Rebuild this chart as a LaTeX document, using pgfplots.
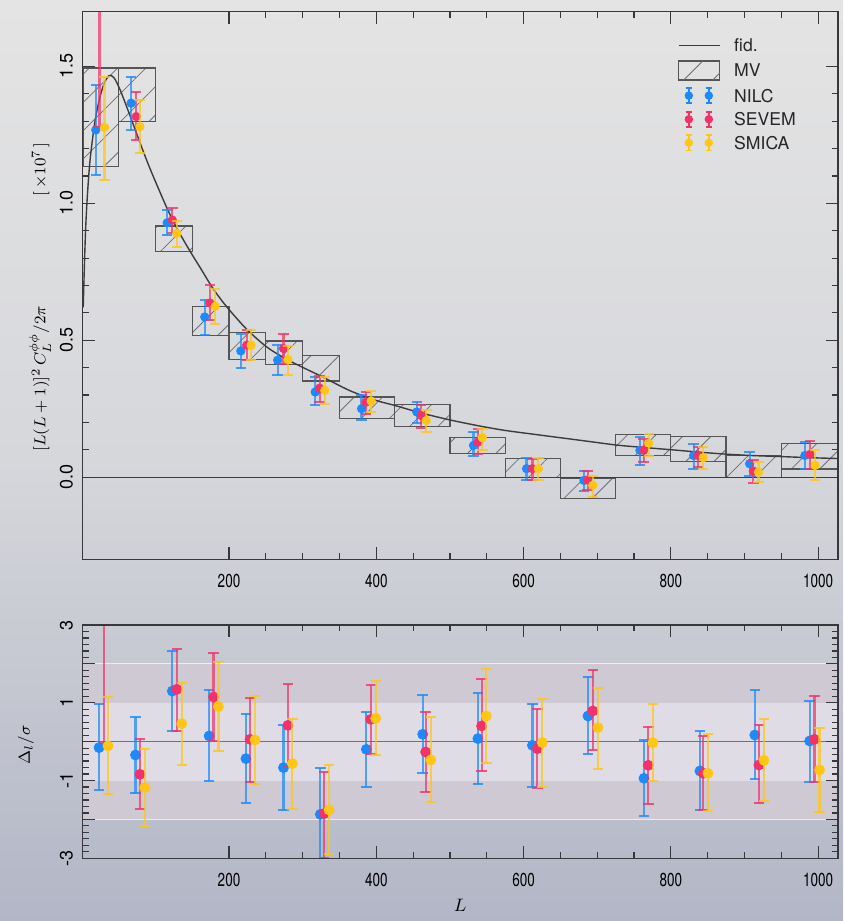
\documentclass[border=0pt]{standalone}
\usepackage{fontspec}
\setmainfont{TeX Gyre Heros}
\newfontfamily\condfont{TeX Gyre Heros}[FakeStretch=0.72]
\usepackage{pgfplots}
\usepackage{pgfplotstable}
\pgfplotsset{compat=1.18}
\usetikzlibrary{patterns.meta}

\definecolor{nilc}{RGB}{28,138,250}
\definecolor{sevem}{RGB}{242,50,105}
\definecolor{smica}{RGB}{255,198,20}
\definecolor{frame}{RGB}{55,55,60}
\definecolor{fidc}{RGB}{60,60,60}
\definecolor{boxc}{RGB}{85,85,85}
\definecolor{hatchc}{RGB}{110,110,110}
\definecolor{bgtop}{RGB}{228,228,228}
\definecolor{bgmid}{RGB}{214,215,219}
\definecolor{bgbot}{RGB}{178,182,198}
\definecolor{bandtwo}{RGB}{206,201,211}
\definecolor{bandone}{RGB}{224,220,230}

% ---------- lensing power, binned (top panel) ----------
\pgfplotstableread{
L   v      ep     em
19  1.268  0.165  0.164
67  1.366  0.097  0.098
116 0.929  0.046  0.045
167 0.585  0.061  0.067
216 0.461  0.063  0.061
266 0.427  0.055  0.055
317 0.311  0.055  0.049
380 0.250  0.049  0.040
455 0.238  0.036  0.040
532 0.116  0.049  0.037
604 0.031  0.040  0.043
682 -0.012 0.034  0.039
758 0.098  0.048  0.055
831 0.079  0.043  0.048
907 0.049  0.043  0.043
982 0.079  0.049  0.048
}\topnilc
\pgfplotstableread{
L   v      ep     em
24  1.850  0.570  0.570
74  1.317  0.088  0.085
123 0.939  0.045  0.049
174 0.636  0.065  0.063
224 0.482  0.055  0.055
274 0.470  0.054  0.055
323 0.325  0.045  0.050
386 0.274  0.037  0.042
461 0.225  0.040  0.045
538 0.128  0.049  0.042
612 0.031  0.036  0.043
687 -0.010 0.034  0.036
763 0.098  0.042  0.043
837 0.079  0.031  0.042
912 0.022  0.039  0.044
989 0.083  0.049  0.052
}\topsevem
\pgfplotstableread{
L   v      ep     em
31  1.277  0.186  0.192
79  1.280  0.098  0.095
129 0.890  0.046  0.049
181 0.624  0.065  0.066
230 0.482  0.057  0.055
280 0.429  0.049  0.057
330 0.317  0.049  0.049
393 0.278  0.037  0.040
468 0.207  0.037  0.042
544 0.144  0.033  0.046
620 0.031  0.040  0.041
694 -0.030 0.036  0.043
770 0.124  0.035  0.045
844 0.071  0.039  0.040
919 0.018  0.037  0.036
996 0.043  0.055  0.053
}\topsmica

% ---------- normalised residuals (bottom panel) ----------
\pgfplotstableread{
L     v      ep     em
23.5  -0.154 1.114  1.086
73    -0.343 0.977  0.967
123   1.300  1.030  1.026
173   0.146  1.174  1.156
223   -0.437 1.140  1.133
274   -0.668 1.096  1.092
324   -1.870 1.184  1.184
386.5 -0.197 0.968  0.960
463   0.189  1.000  1.003
538   0.077  1.183  1.157
612   -0.094 1.054  1.063
687.5 0.660  1.010  0.986
763.5 -0.943 0.986  0.967
839.5 -0.754 1.028  1.011
914   0.171  1.149  1.121
988.5 0.017  1.028  1.047
}\botnilc
\pgfplotstableread{
L     v      ep     em
30    3.400  3.000  3.430
79    -0.840 0.917  0.880
129   1.345  1.045  1.071
179   1.148  1.122  1.131
228.6 0.060  1.054  1.100
280   0.420  1.054  1.050
329   -1.850 1.080  1.150
392.4 0.574  0.874  0.900
467   -0.266 1.036  1.024
543   0.403  1.197  1.157
618.7 -0.180 1.028  1.000
694   0.790  1.050  1.004
769.4 -0.608 0.994  1.002
844   -0.814 0.960  0.951
919.6 -0.600 1.020  0.970
995   0.060  1.114  1.100
}\botsevem
\pgfplotstableread{
L     v      ep     em
35.7  -0.110 1.267  1.244
85.5  -1.180 0.983  0.990
135.8 0.463  1.054  1.063
185.6 0.900  1.160  1.140
235.3 0.043  1.131  1.143
286   -0.566 1.156  1.154
335.8 -1.757 1.157  1.143
399.2 0.600  0.960  0.943
474   -0.471 1.105  1.079
549.4 0.660  1.200  1.200
625.5 -0.026 1.131  1.131
701   0.360  1.030  1.054
775.7 -0.026 0.986  0.984
850.4 -0.814 1.004  0.966
926.4 -0.480 1.070  1.045
1002  -0.728 1.071  1.072
}\botsmica

\pgfplotsset{
  panel/.style={
    scale only axis, xmin=1, xmax=1027,
    axis on top,
    axis line style={draw=frame, line width=0.7pt},
    every tick/.style={draw=frame, line width=0.6pt},
    tick align=inside,
    major tick length=6pt, minor tick length=3pt,
    xtick={200,400,600,800,1000},
    xticklabels={200,400,600,800,1000},
    minor x tick num=3,
    clip marker paths=true,
    /pgf/number format/assume math mode=true,
    xticklabel style={font=\condfont\fontsize{9.4}{10}\selectfont, text=black},
    yticklabel style={font=\fontsize{9}{10}\selectfont, xshift=-4.6pt, rotate=90, anchor=south, inner sep=0pt, text=black},
  },
  series/.style={only marks, mark=*, color=#1, mark options={fill=#1, draw=#1},
    error bars/.cd, y dir=both, y explicit,
    error bar style={line width=1.1pt, draw=#1, opacity=0.72},
    error mark options={rotate=90, mark size=2.6pt, line width=1pt, draw=#1, opacity=0.8},
    /pgfplots/.cd},
  mvbox/.style={draw=boxc, line width=0.6pt,
    pattern={Lines[angle=45,distance=10pt,line width=0.4pt]}, pattern color=hatchc},
}

\newcommand{\legpair}[1]{%
  \foreach \xx in {5pt,15pt}{%
    \draw[#1, line width=0.9pt] (\xx,-3.8pt) -- (\xx,3.8pt)
      (\xx-1.6pt,3.8pt) -- (\xx+1.6pt,3.8pt) (\xx-1.6pt,-3.8pt) -- (\xx+1.6pt,-3.8pt);
    \fill[#1] (\xx,0pt) circle (1.9pt);}
  \path (26.5pt,0pt);}

\begin{document}
\begin{tikzpicture}
\shade[top color=bgtop, bottom color=bgbot, middle color=bgmid] (0,0) rectangle (421.5pt,460.5pt);
\path[use as bounding box] (0,0) rectangle (421.5pt,460.5pt);

% ---------------- top panel: band powers ----------------
\begin{axis}[panel,
  at={(41.25pt,180.85pt)}, anchor=south west,
  width=377.75pt, height=273.8pt,
  ymin=-0.3, ymax=1.7,
  ytick={0,0.5,1,1.5}, yticklabels={0.0,0.5,1.0,1.5},
  minor y tick num=4,
  xticklabel style={yshift=-4pt},
  ylabel={$[L(L+1)]^2\,C_L^{\phi\phi}/2\pi$\hspace{55pt}$[\,\times 10^7\,]$},
  ylabel style={font=\fontsize{8}{9}\selectfont, at={(axis description cs:-0.056,0.479)}, anchor=center},
  legend style={at={(axis description cs:0.788,0.955)}, anchor=north west,
    draw=none, fill=none, inner sep=0pt, row sep=3.3pt,
    font=\fontsize{8.8}{10}\selectfont, text=black!85,
    nodes={inner sep=1pt, text height=6.5pt, text depth=0pt}},
  legend cell align=left,
]
\addlegendimage{legend image code/.code={\draw[fidc, line width=0.5pt] (0pt,0pt) -- (20.5pt,0pt); \path (26.5pt,0pt);}}
\addlegendentry{fid.}
\addlegendimage{legend image code/.code={%
  \draw[boxc, line width=0.6pt] (0pt,-4.75pt) rectangle (20.5pt,4.75pt);
  \draw[hatchc, line width=0.4pt] (2.5pt,-4.75pt) -- (12pt,4.75pt) (17pt,-4.75pt) -- (20.5pt,-1.25pt);
  \path (26.5pt,0pt);}}
\addlegendentry{MV}
\addlegendimage{legend image code/.code={\legpair{nilc}}}
\addlegendentry{NILC}
\addlegendimage{legend image code/.code={\legpair{sevem}}}
\addlegendentry{SEVEM}
\addlegendimage{legend image code/.code={\legpair{smica}}}
\addlegendentry{SMICA}

% minimum-variance bandpowers: L_min/L_max/lower/upper
\foreach \xa/\xb/\ya/\yb in {
  2/50/1.136/1.494, 50/100/1.298/1.494, 100/150/0.825/0.917,
  150/200/0.517/0.624, 200/250/0.429/0.527, 250/300/0.411/0.497,
  300/350/0.351/0.445, 350/425/0.214/0.293, 425/500/0.184/0.266,
  500/575/0.087/0.146, 575/650/0.000/0.067, 650/725/-0.079/-0.004,
  725/800/0.078/0.156, 800/875/0.058/0.148, 875/950/0.000/0.080,
  950/1027/0.030/0.124}{
  \edef\mvplot{\noexpand\addplot[mvbox, forget plot] coordinates
    {(\xa,\ya) (\xb,\ya) (\xb,\yb) (\xa,\yb)} -- cycle;}
  \mvplot
}

% fiducial spectrum
\addplot[fidc, line width=0.7pt, smooth, tension=0.5, forget plot] coordinates {
  (2,0.62) (3,0.72) (5,0.89) (7,1.0) (10,1.12) (13,1.2) (18,1.3) (24,1.38)
  (30,1.435) (37,1.467) (44,1.458) (52,1.415) (60,1.36) (69,1.295) (80,1.215)
  (90,1.145) (100,1.08) (117,0.975) (130,0.905) (146,0.83) (162,0.76)
  (178,0.69) (196,0.625) (223,0.543) (250,0.478) (275,0.435) (300,0.401)
  (327,0.366) (364,0.316) (400,0.28) (425,0.262) (460,0.235) (500,0.209)
  (540,0.187) (574,0.171) (610,0.158) (650,0.144) (690,0.13) (727,0.117)
  (765,0.108) (801,0.100) (840,0.091) (875,0.084) (910,0.079) (951,0.075)
  (990,0.071) (1027,0.068)};
\addplot[fidc, line width=0.6pt, forget plot] coordinates {(1,0) (1027,0)};

\addplot[mark size=2.1pt, series=nilc, forget plot] table[x=L, y=v, y error plus=ep, y error minus=em] {\topnilc};
\addplot[mark size=2.1pt, series=sevem, forget plot] table[x=L, y=v, y error plus=ep, y error minus=em] {\topsevem};
\addplot[mark size=2.1pt, series=smica, forget plot] table[x=L, y=v, y error plus=ep, y error minus=em] {\topsmica};
\end{axis}

% ---------------- bottom panel: residuals ----------------
\begin{axis}[panel,
  at={(41.25pt,31.35pt)}, anchor=south west,
  width=377.75pt, height=116.65pt,
  ymin=-3, ymax=3,
  ytick={-3,-2,-1,0,1,2,3}, yticklabels={-3,,-1,,1,,3},
  minor y tick num=5,
  xticklabel style={yshift=-3.8pt},
  xlabel={$L$},
  xlabel style={font=\fontsize{9}{10}\selectfont, at={(axis description cs:0.5,0)}, anchor=center, yshift=-23.3pt},
  ylabel={$\Delta_l/\sigma$},
  ylabel style={font=\fontsize{8}{9}\selectfont, at={(axis description cs:-0.075,0.486)}, anchor=center},
]
\addplot[draw=none, fill=bandtwo, forget plot] coordinates {(1,-2) (1027,-2) (1027,2) (1,2)} -- cycle;
\addplot[draw=none, fill=bandone, forget plot] coordinates {(1,-1) (1027,-1) (1027,1) (1,1)} -- cycle;
\addplot[white, opacity=0.7, line width=0.6pt, forget plot] coordinates {(1,2) (1027,2)};
\addplot[white, opacity=0.7, line width=0.6pt, forget plot] coordinates {(1,-2) (1027,-2)};
\addplot[black!55, line width=0.8pt, forget plot] coordinates {(1,0) (1027,0)};

\addplot[mark size=2.5pt, series=nilc, forget plot] table[x=L, y=v, y error plus=ep, y error minus=em] {\botnilc};
\addplot[mark size=2.5pt, series=sevem, forget plot] table[x=L, y=v, y error plus=ep, y error minus=em] {\botsevem};
\addplot[mark size=2.5pt, series=smica, forget plot] table[x=L, y=v, y error plus=ep, y error minus=em] {\botsmica};
\end{axis}
\end{tikzpicture}
\end{document}
